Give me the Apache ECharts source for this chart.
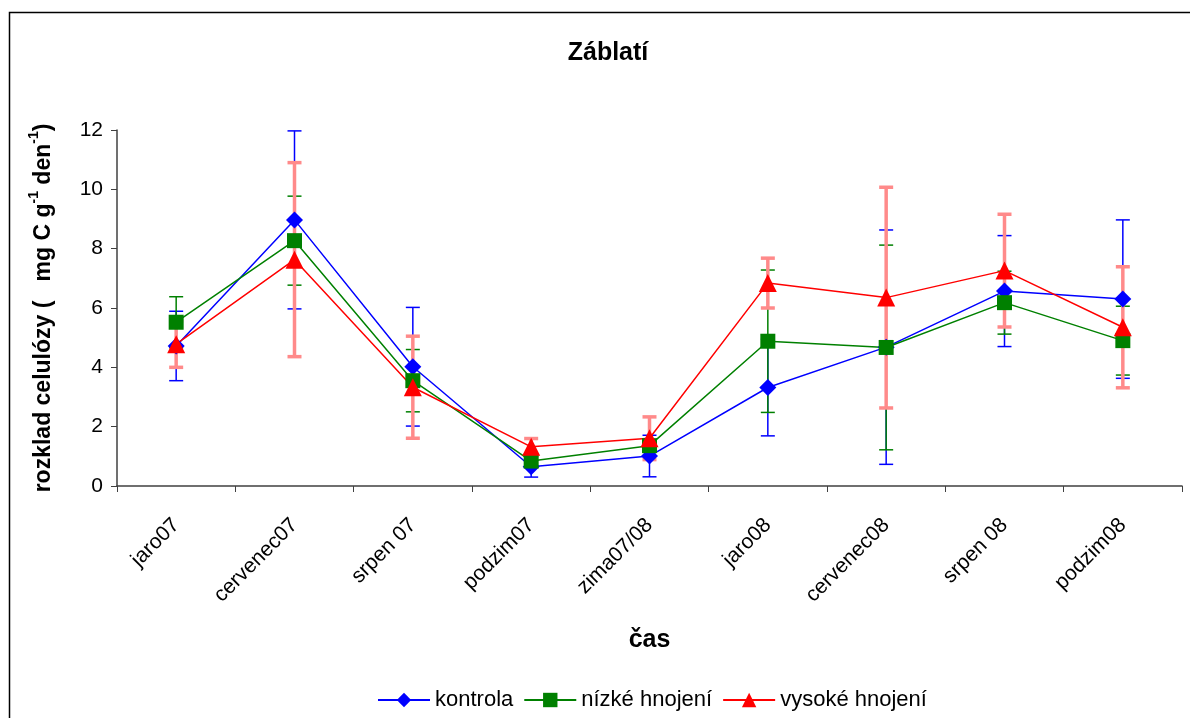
<!DOCTYPE html>
<html>
<head>
<meta charset="utf-8">
<script src="https://cdn.jsdelivr.net/npm/echarts@6/dist/echarts.min.js"></script>
<style>html,body{margin:0;padding:0;background:#fff;}#c{width:1190px;height:718px;}</style>
</head>
<body>
<div id="c"></div>
<script>
const categories = ['jaro07','cervenec07','srpen 07','podzim07','zima07/08','jaro08','cervenec08','srpen 08','podzim08'];
const kontrola = [4.72, 8.97, 4.02, 0.65, 1.01, 3.32, 4.68, 6.57, 6.30];
const kontrolaErr = [1.17, 3.00, 2.00, 0.35, 0.70, 1.63, 3.95, 1.87, 2.67];
const nizke = [5.52, 8.27, 3.55, 0.84, 1.36, 4.88, 4.67, 6.18, 4.90];
const nizkeErr = [0.86, 1.50, 1.05, 0.15, 0.15, 2.40, 3.45, 1.06, 1.16];
const vysoke = [4.78, 7.63, 3.33, 1.32, 1.61, 6.84, 6.35, 7.26, 5.35];
const vysokeErr = [0.78, 3.27, 1.72, 0.28, 0.72, 0.84, 3.72, 1.90, 2.04];
const yTicks = [0, 2, 4, 6, 8, 10, 12];

const FONT = 'Liberation Sans, Arial, sans-serif';

function errData(vals, errs) {
  return vals.map((v, i) => [i, v - errs[i], v + errs[i]]);
}
function errSeries(name, vals, errs, color, width) {
  return {
    type: 'custom',
    name: name + ' err',
    silent: true,
    z: 1,
    data: errData(vals, errs),
    encode: { x: 0, y: [1, 2] },
    renderItem: function (params, api) {
      const x = api.value(0);
      const lo = api.coord([x, api.value(1)]);
      const hi = api.coord([x, api.value(2)]);
      const hw = 7;
      const style = { stroke: color, lineWidth: width, fill: null };
      return {
        type: 'group',
        children: [
          { type: 'line', shape: { x1: lo[0], y1: lo[1], x2: hi[0], y2: hi[1] }, style: style },
          { type: 'line', shape: { x1: lo[0] - hw, y1: lo[1], x2: lo[0] + hw, y2: lo[1] }, style: style },
          { type: 'line', shape: { x1: hi[0] - hw, y1: hi[1], x2: hi[0] + hw, y2: hi[1] }, style: style }
        ]
      };
    }
  };
}
function lineSeries(name, vals, color, symbol, size) {
  return {
    type: 'line',
    name: name,
    data: vals,
    z: 3,
    symbol: symbol,
    symbolSize: size,
    showAllSymbol: true,
    lineStyle: { color: color, width: 1.5 },
    itemStyle: { color: color, borderWidth: 0 },
    emphasis: { disabled: true }
  };
}

const chart = echarts.init(document.getElementById('c'), null, { renderer: 'canvas' });
chart.setOption({
  animation: false,
  backgroundColor: '#fff',
  textStyle: { fontFamily: FONT },
  graphic: [{
    type: 'rect',
    shape: { x: 9.5, y: 12.5, width: 1200, height: 720 },
    style: { fill: null, stroke: '#000', lineWidth: 1.5 },
    z: 0
  }],
  title: {
    text: 'Záblatí',
    left: 603,
    top: 36,
    textAlign: 'center',
    textStyle: { fontFamily: FONT, fontSize: 25, fontWeight: 'bold', color: '#000' }
  },
  legend: {
    bottom: 2,
    left: 372,
    itemWidth: 52,
    itemHeight: 18,
    itemGap: 10,
    textStyle: { fontFamily: FONT, fontSize: 22, color: '#000' },
    data: ['kontrola', 'nízké hnojení', 'vysoké hnojení']
  },
  grid: { left: 117, right: 8, top: 130, bottom: 232, containLabel: false },
  xAxis: {
    type: 'category',
    data: categories,
    boundaryGap: true,
    axisLine: { lineStyle: { color: '#404040', width: 1.5 } },
    axisTick: { show: true, length: 6, lineStyle: { color: '#404040' }, alignWithLabel: false },
    axisLabel: { rotate: 45, fontSize: 21, color: '#000', fontFamily: FONT, margin: 36, interval: 0 },
    name: 'čas',
    nameLocation: 'middle',
    nameGap: 142,
    nameTextStyle: { fontFamily: FONT, fontSize: 25, fontWeight: 'bold', color: '#000' }
  },
  yAxis: {
    type: 'value',
    min: 0,
    max: 12,
    interval: 2,
    splitLine: { show: false },
    axisLine: { show: true, lineStyle: { color: '#404040', width: 1.5 } },
    axisTick: { show: true, length: 6, inside: false, lineStyle: { color: '#404040' } },
    axisLabel: {
      fontSize: 21, color: '#000', fontFamily: FONT, margin: 14,
      formatter: function (v) { return yTicks.indexOf(v) >= 0 ? String(v) : ''; }
    },
    name: '{b|rozklad celulózy (   mg C g}{s|-1}{b| den}{s|-1}{b|)}',
    nameLocation: 'middle',
    nameGap: 62,
    nameRotate: 90,
    nameTextStyle: {
      rich: {
        b: { fontFamily: FONT, fontSize: 23, fontWeight: 'bold', color: '#000', lineHeight: 28, verticalAlign: 'bottom' },
        s: { fontFamily: FONT, fontSize: 14, fontWeight: 'bold', color: '#000', lineHeight: 28, verticalAlign: 'top', padding: [0, 0, 10, 0] }
      }
    }
  },
  series: [
    errSeries('kontrola', kontrola, kontrolaErr, '#0000ff', 1.5),
    errSeries('nízké hnojení', nizke, nizkeErr, '#008000', 1.5),
    errSeries('vysoké hnojení', vysoke, vysokeErr, '#ff8a8a', 3.5),
    lineSeries('kontrola', kontrola, '#0000ff', 'diamond', 17),
    lineSeries('nízké hnojení', nizke, '#008000', 'rect', 15),
    lineSeries('vysoké hnojení', vysoke, '#ff0000', 'triangle', 18)
  ]
});
</script>
</body>
</html>
